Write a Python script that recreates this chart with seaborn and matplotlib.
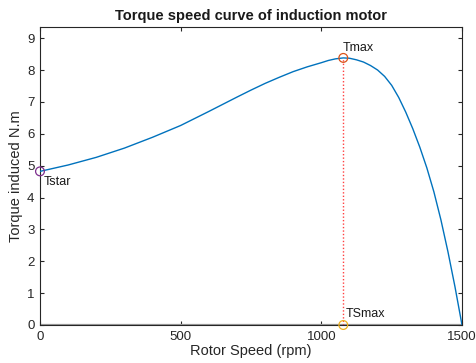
import numpy as np
import pandas as pd
import matplotlib
matplotlib.use("Agg")
import matplotlib.pyplot as plt
import seaborn as sns

# values
speed_rpm = [0, 100, 200, 300, 400, 500, 600, 700, 750, 800, 850, 900, 950,
             1000, 1025, 1050, 1078, 1100, 1125, 1150, 1175, 1200, 1225, 1250,
             1275, 1300, 1325, 1350, 1375, 1400, 1425, 1450, 1475, 1500]
torque_nm = [4.82, 5.02, 5.26, 5.55, 5.89, 6.26, 6.70, 7.15, 7.37, 7.58, 7.77, 7.95, 8.10,
             8.23, 8.30, 8.35, 8.38, 8.37, 8.32, 8.25, 8.14, 8.00, 7.80, 7.52,
             7.14, 6.68, 6.16, 5.58, 4.93, 4.18, 3.30, 2.30, 1.20, 0.0]

t_start = 4.82
t_max = 8.38
speed_at_tmax = 1078

sns.set_theme(style="ticks")
plt.rcParams['font.family'] = ['Liberation Sans', 'DejaVu Sans']

fig = plt.figure(figsize=(4.76, 3.63), dpi=100)
ax = fig.add_axes([0.084, 0.1047, 0.8866, 0.8218])

curve = pd.DataFrame({"speed": speed_rpm, "torque": torque_nm})

# grey baseline at zero torque
ax.plot([0, 1500], [0, 0], color="#9a9a9a", lw=1.6, zorder=2)

# dotted line from TSmax up to Tmax
ax.plot([speed_at_tmax, speed_at_tmax], [0, t_max], color="#ff4040",
        ls=(0, (1, 1.5)), lw=1.0, zorder=2)

sns.lineplot(data=curve, x="speed", y="torque", color="#0072BD", lw=1.0,
             ax=ax, zorder=3)

ax.scatter([0], [t_start], s=40, facecolors="none", edgecolors="#7E2F8E",
           lw=0.9, zorder=4, clip_on=False)
ax.scatter([speed_at_tmax], [t_max], s=40, facecolors="none", edgecolors="#D95319",
           lw=0.9, zorder=4, clip_on=False)
ax.scatter([speed_at_tmax], [0], s=40, facecolors="none", edgecolors="#EDB120",
           lw=0.9, zorder=4, clip_on=False)

ax.text(12, t_start - 0.32, "Tstar", fontsize=9, va="center", ha="left", color="#1a1a1a")
ax.text(speed_at_tmax - 3, t_max + 0.3, "Tmax", fontsize=9, va="center", ha="left", color="#1a1a1a")
ax.text(speed_at_tmax + 10, 0.36, "TSmax", fontsize=9, va="center", ha="left", color="#1a1a1a")

ax.set_xlim(0, 1500)
ax.set_ylim(0, 9.36)
ax.set_xticks([0, 500, 1000, 1500])
ax.set_yticks(range(10))
ax.tick_params(direction="in", top=True, right=True, length=3, width=0.8,
               labelsize=9.5, colors="#262626", pad=4)
for s in ax.spines.values():
    s.set_color("#262626")
    s.set_linewidth(0.8)

ax.set_xlabel("Rotor Speed (rpm)", fontsize=10.5, color="#262626", labelpad=1)
ax.set_ylabel("Torque induced N.m", fontsize=10.5, color="#262626", labelpad=3)
ax.set_title("Torque speed curve of induction motor", fontsize=10.5,
             fontweight="bold", color="#1a1a1a", pad=5)

fig.savefig("out.png", dpi=100)
